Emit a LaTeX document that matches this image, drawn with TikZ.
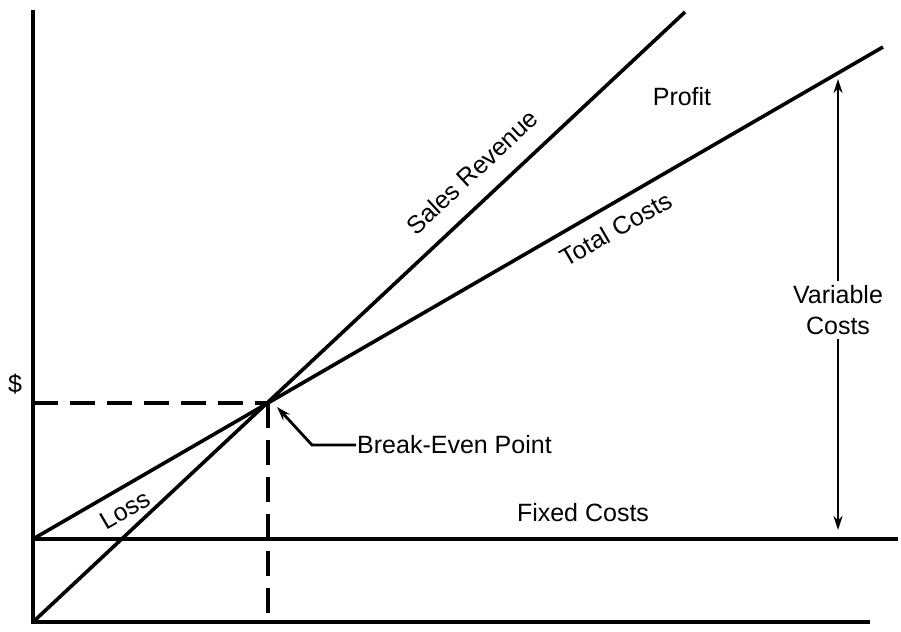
\documentclass[tikz,border=0pt]{standalone}
\usepackage{fontspec}
\setmainfont{Liberation Sans}
\usetikzlibrary{arrows.meta}
\begin{document}
\begin{tikzpicture}[x=1pt,y=-1pt,
  ln/.style={line width=3.6pt},
  lbl/.style={font=\fontsize{25}{31}\selectfont,inner sep=1pt}]
\useasboundingbox (0,0) rectangle (901,631);
\coordinate (o) at (33,622);
\coordinate (top) at (33,10);
\coordinate (xe) at (870,622);
\coordinate (f0) at (33,539);
\coordinate (f1) at (898,539);
\coordinate (s1) at (685,12);
\coordinate (t1) at (883,47);
\coordinate (be) at (268,403);
\coordinate (bey) at (33,403);
\coordinate (bex) at (268,622);
\draw[ln] (top) -- (o) -- (xe);
\draw[ln] (f0) -- (f1);
\draw[ln] (o) -- (s1);
\draw[ln] (f0) -- (t1);
\draw[ln,dash pattern=on 25pt off 12pt] (bey) -- (be);
\draw[ln,dash pattern=on 25pt off 12pt] (be) -- (bex);
\coordinate (va) at (838,79);
\coordinate (vb) at (838,530);
\draw[line width=2.8pt,{Stealth[length=14pt,width=9pt]}-{Stealth[length=14pt,width=9pt]}] (va) -- (vb);
\node[lbl,fill=white,align=center,inner sep=4pt] (vc) at (838,310) {Variable\\Costs};
\node[lbl,anchor=west] (bp) at (356,445) {Break-Even Point};
\coordinate (bk) at (312,445);
\coordinate (bt) at (277,407);
\draw[line width=2.8pt,-{Stealth[length=14pt,width=9pt]}] (bp.west) -- (bk) -- (bt);
\node[lbl] (d) at (15,384) {\$};
\node[lbl] (pr) at (682,97) {Profit};
\node[lbl,rotate=43] (sr) at (472,172) {Sales Revenue};
\node[lbl,rotate=30] (tc) at (616,229) {Total Costs};
\node[lbl,rotate=30] (ls) at (125,510) {Loss};
\node[lbl] (fc) at (583,513) {Fixed Costs};
\end{tikzpicture}
\end{document}
